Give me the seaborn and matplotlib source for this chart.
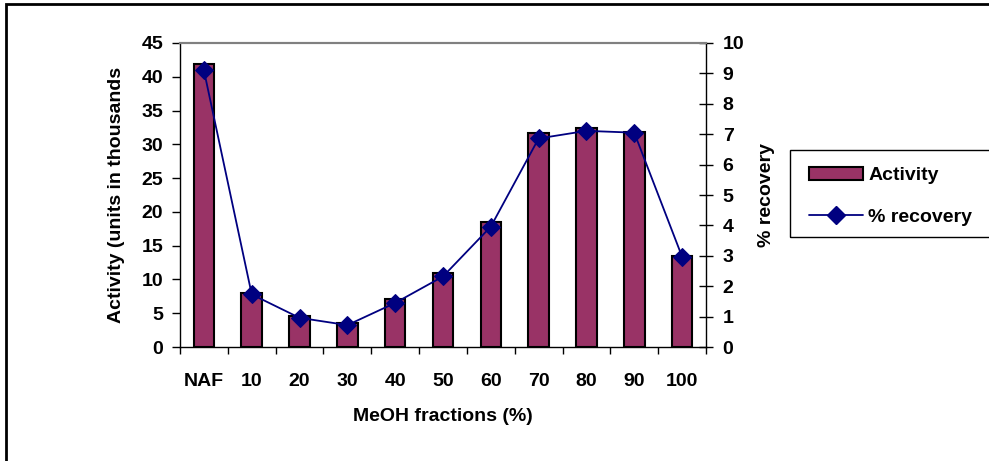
import numpy as np
import pandas as pd
import matplotlib
matplotlib.use("Agg")
import matplotlib.pyplot as plt
from matplotlib.patches import Rectangle
from matplotlib.lines import Line2D
from matplotlib.patches import Patch
import seaborn as sns

# Data
fractions = ["NAF", "10", "20", "30", "40", "50", "60", "70", "80", "90", "100"]
activity = [41.9, 8.0, 4.6, 3.5, 7.1, 11.0, 18.5, 31.7, 32.4, 31.8, 13.5]  # units in thousands
recovery = [9.1, 1.73, 0.96, 0.72, 1.45, 2.32, 3.96, 6.86, 7.11, 7.05, 2.97]  # %

bar_color = "#993366"
line_color = "#000080"
fs = 14

sns.set_style("ticks")
plt.rcParams["font.family"] = ["Liberation Sans", "DejaVu Sans"]
plt.rcParams["font.weight"] = "bold"
plt.rcParams["axes.labelweight"] = "bold"
for key in ("text.color", "axes.labelcolor", "xtick.color", "ytick.color"):
    plt.rcParams[key] = "black"

df = pd.DataFrame({"fraction": fractions, "activity": activity, "recovery": recovery})

fig = plt.figure(figsize=(9.89, 4.61), dpi=100)
ax = fig.add_axes([180 / 989, 1 - 347 / 461, 526 / 989, 304 / 461])

# Bars (left axis)
sns.barplot(data=df, x="fraction", y="activity", order=fractions, color=bar_color,
            saturation=1, width=0.43, edgecolor="black", linewidth=1.5, ax=ax)
ax.set_xlim(-0.5, len(fractions) - 0.5)
ax.set_ylim(0, 45)
ax.set_yticks(np.arange(0, 46, 5))
ax.set_xlabel("MeOH fractions (%)", fontsize=fs)
ax.set_ylabel("Activity (units in thousands", fontsize=fs)
ax.xaxis.set_label_coords(0.5, -0.2)
ax.yaxis.set_label_coords(-0.105, 0.5)

# Line (right axis)
ax2 = ax.twinx()
sns.lineplot(x=np.arange(len(fractions)), y=recovery, color=line_color, marker="D",
             markersize=9, markeredgecolor=line_color, linewidth=1.3, ax=ax2)
ax2.set_ylim(0, 10)
ax2.set_yticks(np.arange(0, 11, 1))
ax2.set_ylabel("% recovery", fontsize=fs)
ax2.yaxis.set_label_coords(1.099, 0.5)

# Ticks and spines
ax.set_xticks(np.arange(len(fractions)))
ax.set_xticklabels(fractions)
ax.set_xticks(np.arange(-0.5, len(fractions), 1), minor=True)
ax.tick_params(axis="x", which="major", length=0, pad=18.5, labelsize=fs)
ax.tick_params(axis="x", which="minor", length=5, width=1, direction="out")
ax.tick_params(axis="y", length=6, width=1, direction="out", pad=6, labelsize=fs)
ax2.tick_params(axis="y", length=10, width=1, direction="inout", pad=7, labelsize=fs)

for a in (ax, ax2):
    a.spines["top"].set_visible(True)
    a.spines["top"].set_color("#808080")
    a.spines["top"].set_linewidth(1.5)
    for s in ("left", "bottom"):
        a.spines[s].set_color("black")
        a.spines[s].set_linewidth(1)
ax.spines["right"].set_visible(False)
ax2.spines["right"].set_visible(True)
ax2.spines["right"].set_color("black")
ax2.spines["right"].set_linewidth(1)
ax2.spines["left"].set_visible(False)
ax2.spines["bottom"].set_visible(False)

# Legend, drawn with its own frame that runs off the right edge
handles = [Patch(facecolor=bar_color, edgecolor="black", linewidth=1.5),
           Line2D([], [], color=line_color, marker="D", markersize=9, linewidth=1.3)]
fig.legend(handles, ["Activity", "% recovery"], loc="center left",
           bbox_to_anchor=(799 / 989, 1 - 196.5 / 461), frameon=False, borderpad=0,
           handlelength=2.8, handletextpad=0.25, labelspacing=1.25,
           prop={"size": fs, "weight": "bold"})
fig.patches.append(Rectangle((790 / 989, 1 - 237 / 461), 0.3, 87 / 461,
                             transform=fig.transFigure, fill=False,
                             edgecolor="black", linewidth=1))

# Outer frame of the picture
fig.patches.append(Rectangle((6 / 989, -0.1), 1.2, 1.1 - 4 / 461,
                             transform=fig.transFigure, fill=False,
                             edgecolor="black", linewidth=2))

fig.savefig("out.png", dpi=100)
